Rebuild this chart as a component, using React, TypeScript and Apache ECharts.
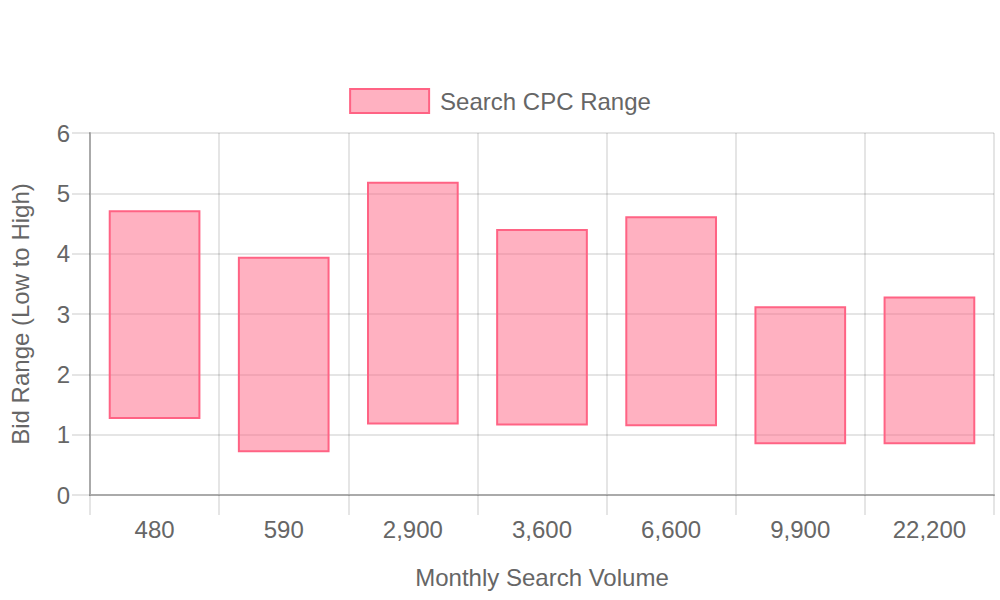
import React, { useEffect, useRef } from "react";
import * as echarts from "echarts";

const categories = ["480", "590", "2,900", "3,600", "6,600", "9,900", "22,200"];
const lowBids = [1.26, 0.71, 1.17, 1.15, 1.14, 0.84, 0.84];
const highBids = [4.72, 3.95, 5.19, 4.41, 4.62, 3.13, 3.29];
const yTicks = [0, 1, 2, 3, 4, 5, 6];

const FONT = "'Liberation Sans', Arial, sans-serif";
const TEXT = "#666666";
const GRID = "rgba(0,0,0,0.1)";

export default function App() {
  const ref = useRef<HTMLDivElement>(null);
  useEffect(() => {
    if (!ref.current) return;
    const chart = echarts.init(ref.current, null, { renderer: "svg" });
    const spans = highBids.map((h, i) => +(h - lowBids[i]).toFixed(4));
    chart.setOption({
      animation: false,
      textStyle: { fontFamily: FONT },
      legend: {
        data: [{ name: "Search CPC Range", icon: "rect" }],
        top: 83,
        left: "center",
        itemWidth: 79,
        itemHeight: 24,
        textStyle: { fontSize: 24, color: TEXT, fontFamily: FONT, padding: [0, 0, 0, 6] },
      },
      grid: { left: 90, right: 6, top: 133, bottom: 105, containLabel: false },
      xAxis: {
        type: "category",
        data: categories,
        boundaryGap: true,
        name: "Monthly Search Volume",
        nameLocation: "middle",
        nameGap: 70,
        nameTextStyle: { fontSize: 24, color: TEXT, fontFamily: FONT },
        axisLine: { show: true, lineStyle: { color: "#aaaaaa", width: 2 } },
        axisTick: { show: true, length: 20, lineStyle: { color: GRID, width: 2 } },
        splitLine: { show: true, lineStyle: { color: GRID, width: 2 } },
        axisLabel: { fontSize: 24, color: TEXT, fontFamily: FONT, margin: 22 },
      },
      yAxis: {
        type: "value",
        min: yTicks[0],
        max: yTicks[yTicks.length - 1],
        interval: 1,
        name: "Bid Range (Low to High)",
        nameLocation: "middle",
        nameGap: 58,
        nameRotate: 90,
        nameTextStyle: { fontSize: 24, color: TEXT, fontFamily: FONT },
        axisLine: { show: true, lineStyle: { color: "#aaaaaa", width: 2 } },
        axisTick: { show: true, length: 18, lineStyle: { color: GRID, width: 2 } },
        splitLine: { show: true, lineStyle: { color: GRID, width: 2 } },
        axisLabel: { fontSize: 24, color: TEXT, fontFamily: FONT, margin: 20 },
      },
      series: [
        {
          name: "base",
          type: "bar",
          stack: "range",
          data: lowBids,
          barWidth: "71%",
          itemStyle: { color: "transparent" },
          emphasis: { disabled: true },
          silent: true,
        },
        {
          name: "Search CPC Range",
          type: "bar",
          stack: "range",
          data: spans,
          barWidth: "71%",
          itemStyle: {
            color: "rgba(255,99,132,0.5)",
            borderColor: "rgb(255,99,132)",
            borderWidth: 2,
          },
        },
      ],
    });
    return () => chart.dispose();
  }, []);
  return (
    <div
      ref={ref}
      style={{ position: "absolute", left: 0, top: 0, width: 1000, height: 600, background: "#fff" }}
    />
  );
}
